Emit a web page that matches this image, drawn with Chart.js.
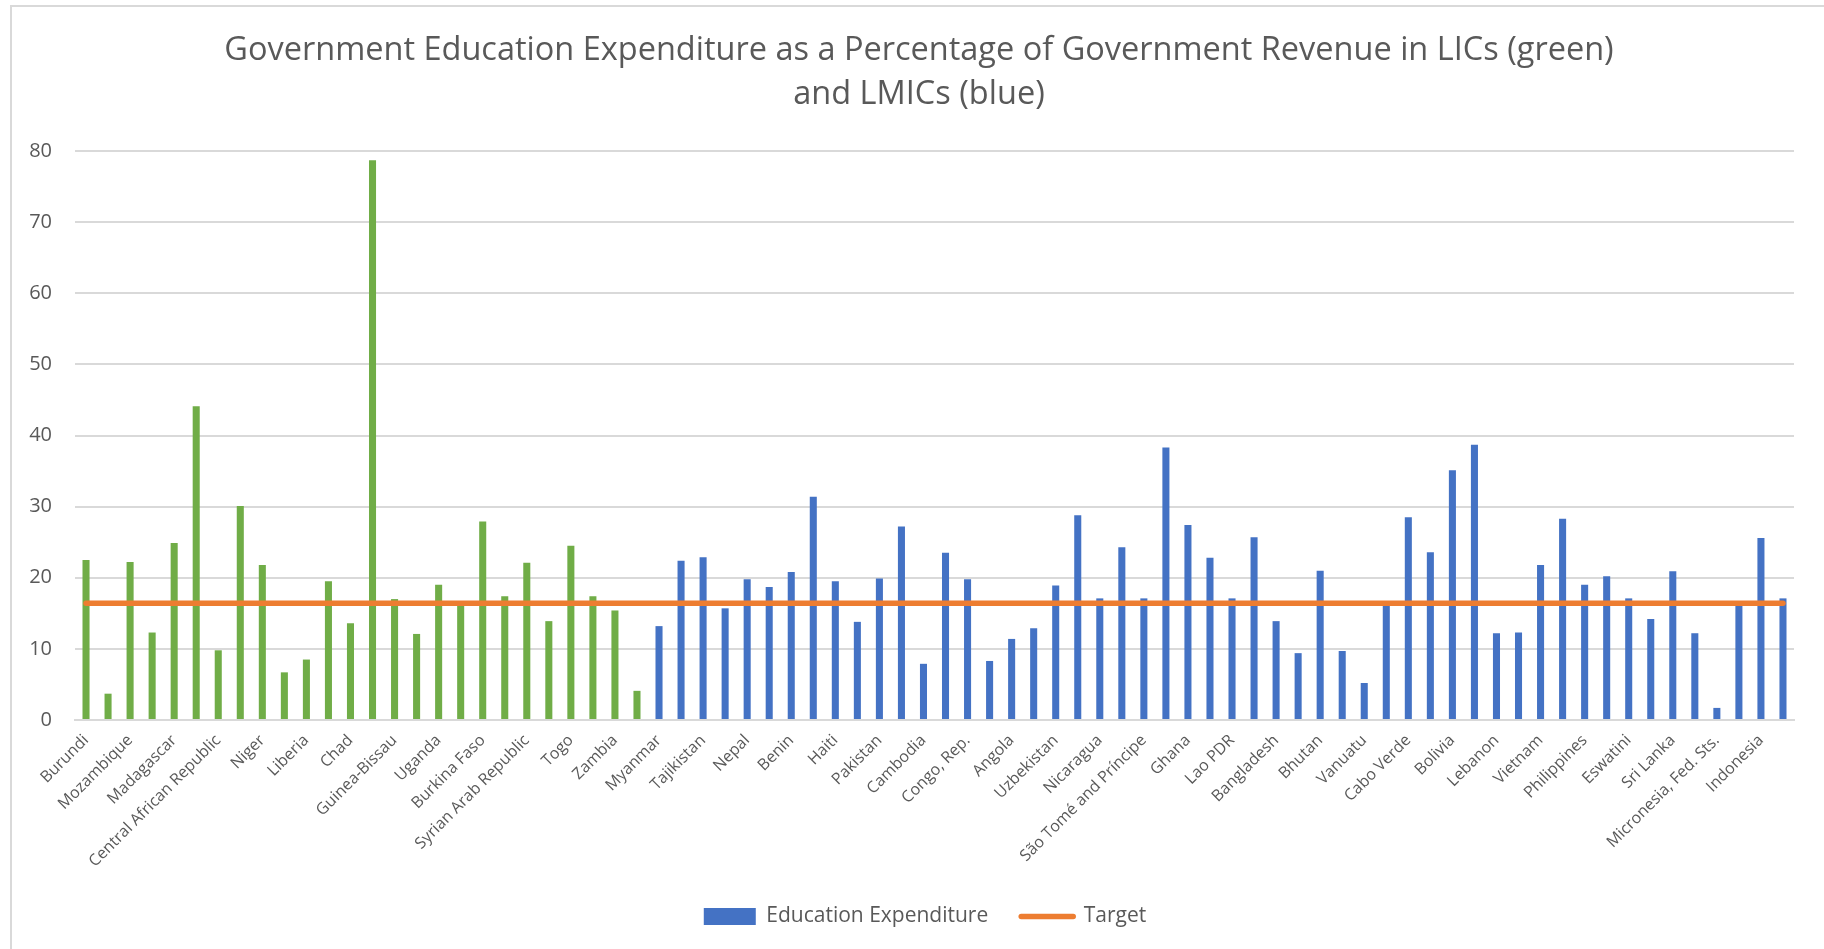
<!DOCTYPE html>
<html lang="en">
<head>
    <meta charset="UTF-8">
    <title>Education Expenditure vs Revenue</title>
    <script src="https://cdn.jsdelivr.net/npm/chart.js"></script>
    <style>
        html, body { margin: 0; padding: 0; background: #fff; }
        #wrap { width: 1824px; height: 949px; }
    </style>
</head>
<body>
    <div id="wrap"><canvas id="eduChart"></canvas></div>

    <script>
        // Only every other country gets a label on the axis
        const shownCountries = [
            'Burundi', 'Mozambique', 'Madagascar', 'Central African Republic', 'Niger',
            'Liberia', 'Chad', 'Guinea-Bissau', 'Uganda', 'Burkina Faso',
            'Syrian Arab Republic', 'Togo', 'Zambia', 'Myanmar', 'Tajikistan',
            'Nepal', 'Benin', 'Haiti', 'Pakistan', 'Cambodia',
            'Congo, Rep.', 'Angola', 'Uzbekistan', 'Nicaragua', 'São Tomé and Príncipe',
            'Ghana', 'Lao PDR', 'Bangladesh', 'Bhutan', 'Vanuatu',
            'Cabo Verde', 'Bolivia', 'Lebanon', 'Vietnam', 'Philippines',
            'Eswatini', 'Sri Lanka', 'Micronesia, Fed. Sts.', 'Indonesia'
        ];

        // % of government revenue spent on education
        const licValues = [
            22.5, 3.7, 22.2, 12.3, 24.9, 44.1, 9.8, 30.1, 21.8, 6.7,
            8.5, 19.5, 13.6, 78.7, 17.0, 12.1, 19.0, 16.1, 27.9, 17.4,
            22.1, 13.9, 24.5, 17.4, 15.4, 4.1
        ];
        const lmicValues = [
            13.2, 22.4, 22.9, 15.7, 19.8, 18.7, 20.8, 31.4, 19.5, 13.8,
            19.9, 27.2, 7.9, 23.5, 19.8, 8.3, 11.4, 12.9, 18.9, 28.8,
            17.1, 24.3, 17.1, 38.3, 27.4, 22.8, 17.1, 25.7, 13.9, 9.4,
            21.0, 9.7, 5.2, 16.1, 28.5, 23.6, 35.1, 38.7, 12.2, 12.3,
            21.8, 28.3, 19.0, 20.2, 17.1, 14.2, 20.9, 12.2, 1.7, 16.1,
            25.6, 17.1
        ];
        const targetLevel = 16.4;

        const yTicks = [0, 10, 20, 30, 40, 50, 60, 70, 80];

        const GREEN = '#70AD47';
        const BLUE = '#4472C4';
        const ORANGE = '#ED7D31';
        const TEXT = '#595959';
        const GRID = '#D9D9D9';

        const categories = shownCountries.flatMap(name => [name, '']);
        const values = licValues.concat(lmicValues);
        const barColors = licValues.map(() => GREEN).concat(lmicValues.map(() => BLUE));
        const targetLine = categories.map(() => targetLevel);

        Chart.defaults.font.family = "'Open Sans', sans-serif";
        Chart.defaults.color = TEXT;

        // white background plus the thin frame on the top and left edges
        const frame = {
            id: 'frame',
            beforeDraw(chart) {
                const ctx = chart.ctx;
                ctx.save();
                ctx.fillStyle = '#fff';
                ctx.fillRect(0, 0, chart.width, chart.height);
                ctx.strokeStyle = GRID;
                ctx.lineWidth = 2;
                ctx.beginPath();
                ctx.moveTo(11, chart.height);
                ctx.lineTo(11, 6);
                ctx.lineTo(chart.width, 6);
                ctx.stroke();
                ctx.restore();
            }
        };

        // title and legend sit a little right of the canvas centre
        const nudge = {
            id: 'nudge',
            afterLayout(chart) {
                if (chart.titleBlock) { chart.titleBlock.left += 8; chart.titleBlock.right += 8; }
                if (chart.legend) { chart.legend.left += 14; chart.legend.right += 14; }
            }
        };

        new Chart(document.getElementById('eduChart'), {
            data: {
                labels: categories,
                datasets: [
                    {
                        type: 'line',
                        label: 'Target',
                        data: targetLine,
                        borderColor: ORANGE,
                        backgroundColor: ORANGE,
                        borderWidth: 5.5,
                        borderCapStyle: 'round',
                        pointRadius: 0,
                        order: 0
                    },
                    {
                        type: 'bar',
                        label: 'Education Expenditure',
                        data: values,
                        backgroundColor: barColors,
                        barPercentage: 0.32,
                        categoryPercentage: 1.0,
                        order: 1
                    }
                ]
            },
            options: {
                responsive: true,
                maintainAspectRatio: false,
                animation: false,
                layout: { padding: { left: 28, right: 30, top: 0, bottom: 12 } },
                plugins: {
                    title: {
                        display: true,
                        text: [
                            'Government Education Expenditure as a Percentage of Government Revenue in LICs (green)',
                            'and LMICs (blue)'
                        ],
                        color: TEXT,
                        font: { size: 32.5, weight: 'normal', lineHeight: 1.354 },
                        padding: { top: 29, bottom: 34 }
                    },
                    legend: {
                        position: 'bottom',
                        reverse: true,
                        labels: {
                            color: TEXT,
                            font: { size: 21 },
                            usePointStyle: true,
                            pointStyleWidth: 52,
                            boxHeight: 17,
                            padding: 33,
                            generateLabels(chart) {
                                return chart.data.datasets.map((ds, i) => {
                                    const isLine = ds.type === 'line';
                                    return {
                                        text: ds.label,
                                        datasetIndex: i,
                                        fillStyle: isLine ? ORANGE : BLUE,
                                        strokeStyle: isLine ? ORANGE : BLUE,
                                        lineWidth: isLine ? 5.5 : 0,
                                        lineCap: 'round',
                                        pointStyle: isLine ? 'line' : 'rect',
                                        fontColor: TEXT,
                                        hidden: false
                                    };
                                });
                            }
                        }
                    },
                    tooltip: { enabled: false }
                },
                scales: {
                    x: {
                        grid: { display: false, drawTicks: false },
                        border: { display: true, color: GRID, width: 2 },
                        ticks: {
                            autoSkip: false,
                            maxRotation: 45,
                            minRotation: 45,
                            padding: 11,
                            font: { size: 16 },
                            color: TEXT
                        },
                        // rotated names may hang past the left edge of the plot
                        afterFit(scale) {
                            scale.paddingLeft = 0;
                            scale.paddingRight = 0;
                            scale.height = 153;
                        }
                    },
                    y: {
                        min: 0,
                        max: 80,
                        afterBuildTicks(scale) {
                            scale.ticks = yTicks.map(v => ({ value: v }));
                        },
                        afterFit(scale) {
                            scale.width = 47;
                        },
                        grid: { color: GRID, lineWidth: 2, drawTicks: false },
                        border: { display: false },
                        ticks: {
                            padding: 23,
                            font: { size: 20 },
                            color: TEXT
                        }
                    }
                }
            },
            plugins: [frame, nudge]
        });
    </script>
</body>
</html>
